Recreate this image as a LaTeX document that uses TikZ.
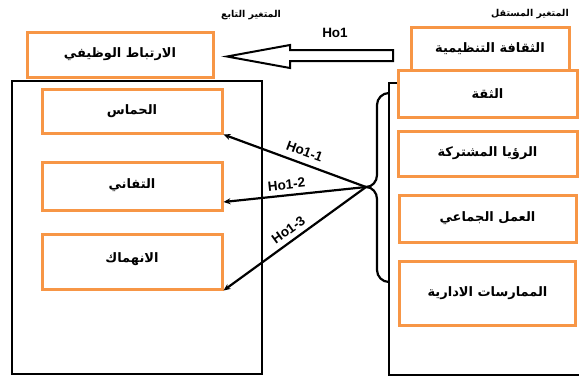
\documentclass[tikz,border=0pt]{standalone}
\usepackage{fontspec}
\usepackage{tikz}
\usetikzlibrary{positioning,arrows.meta}
\TeXXeTstate=1
\newfontfamily\arabicfont[Script=Arabic, BoldFont={DejaVu Sans Bold}]{DejaVu Sans}
\newfontfamily\hofont[BoldFont={Liberation Sans Bold}]{Liberation Sans}
\definecolor{boxorange}{HTML}{F79646}

\begin{document}
\begin{tikzpicture}[
    x=1pt, y=-1pt,
    varbox/.style={rectangle, draw=boxorange, line width=3pt, fill=white, minimum width=180pt, inner sep=2pt, font=\arabicfont\bfseries\fontsize{13}{15}\selectfont},
    frame/.style={draw=black, line width=2.6pt},
    titletext/.style={font=\arabicfont\bfseries\fontsize{9.5}{11}\selectfont},
    holabel/.style={font=\hofont\bfseries\fontsize{13.5}{15}\selectfont, inner sep=1pt},
    hoarrow/.style={-{Stealth[length=7pt,width=6pt]}, draw=black, line width=2.2pt},
    hollowarrow/.style={draw=black, line width=2pt, fill=white, line join=miter}
    ]
        \useasboundingbox (0,0) rectangle (579,376);

        %Frames
        \draw[frame] (12,81) rectangle (262,374);
        \draw[frame] (389,83) rectangle (600,375);

        %Titles
        \node[titletext] (tdep)   at (251,15) {\beginR المتغير التابع\endR};
        \node[titletext] (tindep) at (530,14) {\beginR المتغير المستقل\endR};

        %Nodes
        \node[varbox, minimum width=186pt, minimum height=45pt]
            (dep)    at (120,54.5)            {\beginR الارتباط الوظيفي\endR};
        \node[varbox, minimum height=44pt]
            (enth)   at (132,111)             {\beginR الحماس\endR};
        \node[varbox, minimum height=48pt]
            (ded)    [below=26pt of enth]     {\raisebox{4pt}{\beginR التفاني\endR}};
        \node[varbox, minimum height=55pt]
            (absb)   [below=21pt of ded]      {\raisebox{8pt}{\beginR الانهماك\endR}};

        \node[varbox, minimum width=158pt, minimum height=46pt]
            (cult)   at (490,50)              {\raisebox{4pt}{\beginR الثقافة التنظيمية\endR}};
        \node[varbox, minimum width=179pt, minimum height=47pt]
            (trust)  at (487.5,93.5)          {\beginR الثقة\endR};
        \node[varbox, minimum width=179pt, minimum height=45pt]
            (vision) [below=11pt of trust]    {\beginR الرؤيا المشتركة\endR};
        \node[varbox, minimum width=177pt, minimum height=47pt]
            (team)   [below=16pt of vision]   {\beginR العمل الجماعي\endR};
        \node[varbox, minimum width=176pt, minimum height=64pt]
            (mgmt)   [below=16pt of team]     {\beginR الممارسات الادارية\endR};

        %Hollow arrow
        \draw[hollowarrow] (393,50) -- (290,50) -- (290,45) -- (227,56.5)
            -- (290,68) -- (290,61) -- (393,61) -- cycle;
        \node[holabel] (lbho) at (335,33) {Ho1};

        %Brace
        \coordinate (tip) at (366,187);
        \draw[line width=2.2pt] (389,93) to[out=180,in=90] (377,105) -- (377,175)
            to[out=-90,in=0] (tip) to[out=0,in=90] (377,199) -- (377,270)
            to[out=-90,in=180] (389,282);

        %Lines
        \draw[hoarrow]
            (tip) -- node[holabel, sloped, above=5pt, pos=0.46] {Ho1-1} (enth.south east);
        \draw[hoarrow]
            (tip) -- node[holabel, sloped, above=4pt, pos=0.55] {Ho1-2} ([yshift=-16pt]ded.east);
        \draw[hoarrow]
            (tip) -- node[holabel, sloped, above=4pt, pos=0.5] {Ho1-3} (absb.south east);
    \end{tikzpicture}
\end{document}
